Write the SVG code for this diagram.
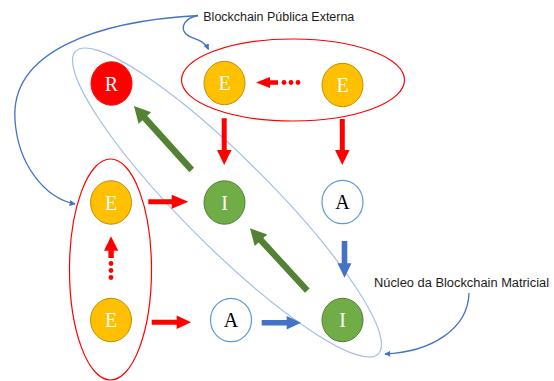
<svg xmlns="http://www.w3.org/2000/svg" width="554" height="381" viewBox="0 0 554 381">
<defs>
<style>
.lbl{font-family:"Liberation Serif","Times New Roman",serif;font-size:20px;text-anchor:middle}
.w{fill:#ffffff}
.k{fill:#000000}
.cap{font-family:"Liberation Sans",Arial,sans-serif;font-size:12.5px;fill:#1a1a1a}
.e{fill:#FFC000;stroke:#BF9000;stroke-width:1}
.i{fill:#70AD47;stroke:#507E32;stroke-width:1}
.a{fill:#ffffff;stroke:#5B9BD5;stroke-width:1.2}
.r{fill:#FF0000;stroke:#FF0000;stroke-width:1}
.grp{fill:none;stroke:#FF0000;stroke-width:1.2}
.core{fill:none;stroke:#A4BDE6;stroke-width:1.2}
.red{fill:#FF0000}
.grn{fill:#548235}
.blu{fill:#4472C4}
.cv{fill:none;stroke:#4472C4;stroke-width:1.3;marker-end:url(#ah)}
</style>
<marker id="ah" viewBox="0 0 10 10" refX="9" refY="5" markerWidth="6" markerHeight="6" markerUnits="userSpaceOnUse" orient="auto">
<path d="M0,0 L10,5 L0,10 z" fill="#4472C4"/>
</marker>
</defs>
<rect width="554" height="381" fill="#ffffff"/>

<g id="groups">
<ellipse class="core" cx="227" cy="202.5" rx="214" ry="44" transform="rotate(45 227 202.5)"/>
<ellipse class="grp" cx="293" cy="80" rx="111.5" ry="41"/>
<ellipse class="grp" cx="110.5" cy="269.5" rx="41" ry="110.5"/>
</g>

<g id="connectors">
<polygon class="red" points="256,82.5 270,77 270,80.2 278,80.2 278,84.8 270,84.8 270,88"/>
<circle class="red" cx="284" cy="82.5" r="2.4"/>
<circle class="red" cx="291" cy="82.5" r="2.4"/>
<circle class="red" cx="298" cy="82.5" r="2.4"/>
<polygon class="red" points="221.7,118.3 226.7,118.3 226.7,150 231.5,150 224.2,165 217,150 221.7,150"/>
<polygon class="red" points="339.8,119 344.8,119 344.8,150 349.6,150 342.3,165 335,150 339.8,150"/>
<polygon class="grn" transform="translate(191.7 170) rotate(227.97)" points="0,-3.2 70,-3.2 70,-8.5 86.2,0 70,8.5 70,3.2 0,3.2"/>
<polygon class="grn" transform="translate(307.3 290.7) rotate(227.44)" points="0,-3.2 68.5,-3.2 68.5,-8.5 84.7,0 68.5,8.5 68.5,3.2 0,3.2"/>
<polygon class="red" points="148.3,199.2 171.7,199.2 171.7,194.7 188.3,201.7 171.7,208.7 171.7,204.2 148.3,204.2"/>
<polygon class="red" points="151.7,319.8 176.7,319.8 176.7,315.5 191,322.3 176.7,329.1 176.7,324.8 151.7,324.8"/>
<polygon class="blu" points="261.7,319.9 286.7,319.9 286.7,316 301,322.7 286.7,329.4 286.7,325.5 261.7,325.5"/>
<polygon class="blu" points="341.7,241 347.3,241 347.3,263.3 351.5,263.3 344.5,277.7 337.5,263.3 341.7,263.3"/>
<polygon class="red" points="111,236.3 118.3,250.7 113.8,250.7 113.8,258 108.4,258 108.4,250.7 104,250.7"/>
<circle class="red" cx="111" cy="263.5" r="2.4"/>
<circle class="red" cx="111" cy="270.5" r="2.4"/>
<circle class="red" cx="111" cy="277.5" r="2.4"/>
<path class="cv" d="M198,15.5 C100,21 10,50 15,120 C18,165 45,198 75,204"/>
<path class="cv" d="M198,15.5 C184,18 180,28 186,34 C192,40 203,38 208.5,49.5"/>
<path class="cv" d="M469,293 C468,330 430,352 385,354"/>
</g>

<g id="node-R"><ellipse class="r" cx="111.5" cy="83.5" rx="20.5" ry="21.7"/><text class="lbl w" x="111.5" y="90.5">R</text></g>
<g id="node-E1"><ellipse class="e" cx="224.5" cy="83" rx="20.5" ry="21.7"/><text class="lbl w" x="224.5" y="90">E</text></g>
<g id="node-E2"><ellipse class="e" cx="342.5" cy="85" rx="20.5" ry="21.7"/><text class="lbl w" x="342.5" y="92">E</text></g>
<g id="node-E3"><ellipse class="e" cx="111" cy="202.5" rx="20.5" ry="21.7"/><text class="lbl w" x="111" y="209.5">E</text></g>
<g id="node-I1"><ellipse class="i" cx="224.5" cy="202.5" rx="20.5" ry="21.7"/><text class="lbl w" x="224.5" y="209.5">I</text></g>
<g id="node-A1"><ellipse class="a" cx="342.5" cy="202" rx="20.5" ry="21.7"/><text class="lbl k" x="342.5" y="209">A</text></g>
<g id="node-E4"><ellipse class="e" cx="111" cy="320" rx="20.5" ry="21.7"/><text class="lbl w" x="111" y="327">E</text></g>
<g id="node-A2"><ellipse class="a" cx="231" cy="320" rx="20.5" ry="21.7"/><text class="lbl k" x="231" y="327">A</text></g>
<g id="node-I2"><ellipse class="i" cx="342.5" cy="320" rx="20.5" ry="21.7"/><text class="lbl w" x="342.5" y="327">I</text></g>

<g id="label-externa"><text class="cap" x="203.3" y="20.5" textLength="151" lengthAdjust="spacingAndGlyphs">Blockchain Pública Externa</text></g>
<g id="label-nucleo"><text class="cap" x="374" y="286.7" textLength="175" lengthAdjust="spacingAndGlyphs">Núcleo da Blockchain Matricial</text></g>
</svg>
